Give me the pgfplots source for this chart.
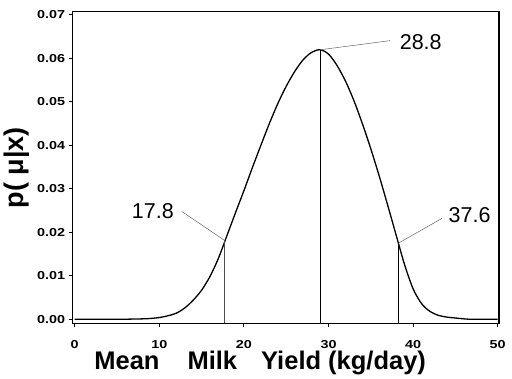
\documentclass[border=0pt]{standalone}
\usepackage{pgfplots}
\pgfplotsset{compat=1.18}
\usepackage{fontspec}
\setmainfont{Liberation Sans}
\newfontfamily\tickfont[FakeStretch=1.25]{Liberation Sans}
\pgfplotstableread{
x y
0 0.0
5 0.0
8 0.0001
9 0.0002
10 0.0004
11 0.0008
12 0.0014
13 0.0026
14 0.0044
15 0.0067
16 0.0099
17 0.0141
18 0.0193
19 0.0245
20 0.0296
21 0.0349
22 0.0400
23 0.0450
24 0.0496
25 0.0536
26 0.0570
27 0.0597
28 0.0614
29 0.0620
30 0.0610
31 0.0584
32 0.0548
33 0.0503
34 0.0450
35 0.0392
36 0.0329
37 0.0262
38 0.0193
39 0.0125
40 0.0070
41 0.0036
42 0.0018
43 0.0009
44 0.0005
45 0.0003
46 0.0001
47 0.0
50 0.0
}\curvedata
\begin{document}
\begin{tikzpicture}
\path[use as bounding box] (-72.7pt,-55.7pt) rectangle (439.3pt,323.3pt);
\begin{axis}[
  scale only axis, width=426.3pt, height=311.6pt,
  xmin=-0.24, xmax=50.15, ymin=-0.00092, ymax=0.07076,
  axis line style={line width=1.2pt},
  xtick={0,10,20,30,40,50},
  ytick={0,0.01,0.02,0.03,0.04,0.05,0.06,0.07},
  tick align=outside, xtick pos=lower, ytick pos=left,
  major tick length=4pt,
  tick style={line width=1pt, black},
  scaled y ticks=false,
  /pgf/number format/assume math mode=true,
  yticklabel style={/pgf/number format/.cd, fixed, fixed zerofill, precision=2, /tikz/.cd,
     font=\tickfont\bfseries\fontsize{11.5}{13}\selectfont},
  xticklabel style={font=\tickfont\bfseries\fontsize{11.5}{13}\selectfont, yshift=-10pt},
  clip=false,
]
\addplot[black, line width=1.3pt, smooth] table[x=x, y=y] {\curvedata};
\addplot[black!70, line width=0.6pt] coordinates {(17.68,-0.00092) (17.68,0.0182)};
\addplot[black, line width=0.8pt] coordinates {(29.0,-0.00092) (29.0,0.0620)};
\addplot[black, line width=0.8pt] coordinates {(38.25,-0.00092) (38.25,0.0175)};
\addplot[black!60, line width=0.5pt] coordinates {(12.65,0.0248) (17.68,0.0182)};
\addplot[black!60, line width=0.5pt] coordinates {(29.0,0.0620) (37.27,0.0641)};
\addplot[black!60, line width=0.5pt] coordinates {(38.25,0.0175) (43.4,0.0232)};
\node[font=\fontsize{21.5}{24}\selectfont, inner sep=0pt, anchor=center] at (axis cs:9.23,0.02496) {17.8};
\node[font=\fontsize{21.5}{24}\selectfont, inner sep=0pt, anchor=center] at (axis cs:40.9,0.06386) {28.8};
\node[font=\fontsize{21.5}{24}\selectfont, inner sep=0pt, anchor=center] at (axis cs:46.67,0.02399) {37.6};
\node[font=\bfseries\fontsize{25.5}{28}\selectfont, inner sep=0pt, anchor=base west] at (axis cs:2.3,-0.01166) {Mean\hspace{28pt}Milk\hspace{24pt}Yield (kg/day)};
\node[font=\bfseries\fontsize{27}{30}\selectfont, inner sep=0pt, anchor=center, rotate=90] at (axis cs:-6.88,0.0349) {p( μ|x)};
\end{axis}
\end{tikzpicture}
\end{document}
